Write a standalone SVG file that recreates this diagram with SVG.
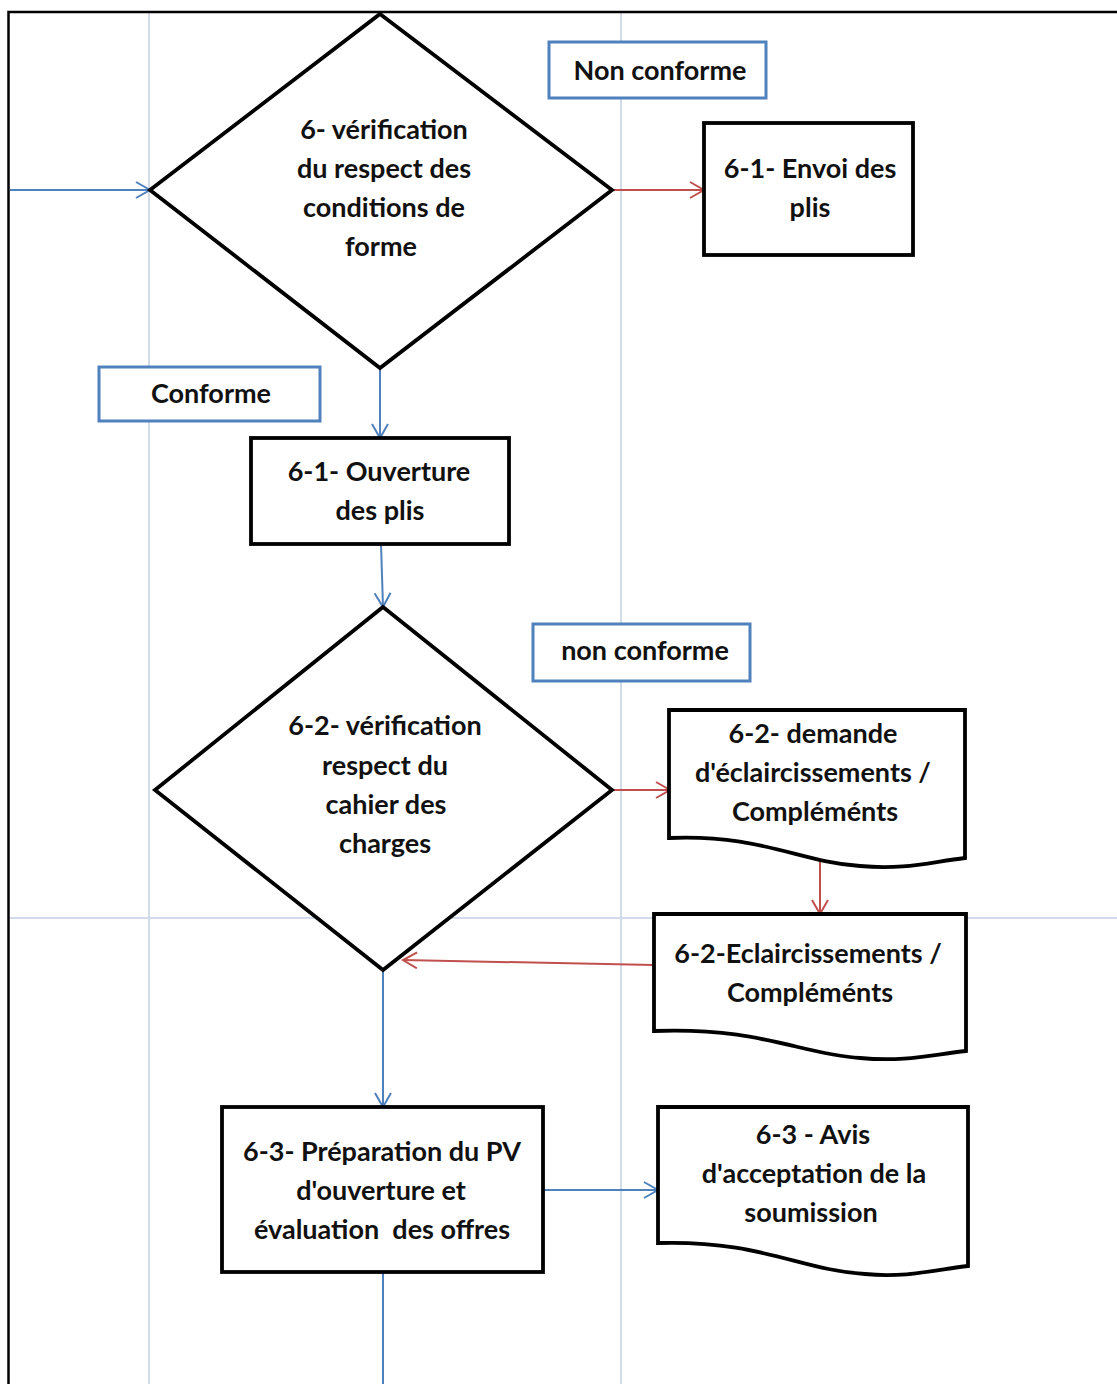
<svg xmlns="http://www.w3.org/2000/svg" width="1117" height="1384" viewBox="0 0 1117 1384">
<style>
.grid{stroke:#d3dbea;stroke-width:2;fill:none}
.frame{stroke:#000;stroke-width:2.5;fill:none}
.shape{fill:#fff;stroke:#000;stroke-width:3.8}
.lbl{fill:#fff;stroke:#4f81bd;stroke-width:3}
.blue{stroke:#4f81bd;stroke-width:2;fill:none}
.red{stroke:#c0504d;stroke-width:2;fill:none}
text{font-family:Lato,"Liberation Sans",sans-serif;font-weight:bold;font-size:27px;fill:#111;text-anchor:middle}
</style>
<defs>
<marker id="ab" markerUnits="userSpaceOnUse" markerWidth="18" markerHeight="20" refX="15" refY="9" orient="auto">
<path d="M1,1 L15,9 L1,17" fill="none" stroke="#4f81bd" stroke-width="2"/>
</marker>
<marker id="ar" markerUnits="userSpaceOnUse" markerWidth="18" markerHeight="20" refX="15" refY="9" orient="auto">
<path d="M1,1 L15,9 L1,17" fill="none" stroke="#c0504d" stroke-width="2"/>
</marker>
</defs>
<rect width="1117" height="1384" fill="#fff"/>
<g id="grid">
<line class="grid" x1="149" y1="12" x2="149" y2="1384"/>
<line class="grid" x1="621" y1="12" x2="621" y2="1384"/>
<line class="grid" x1="10" y1="918" x2="1117" y2="918"/>
</g>
<g id="frame">
<path class="frame" d="M8.5,1384 V12 H1117"/>
</g>
<g id="connectors">
<line class="blue" x1="10" y1="190" x2="150" y2="190" marker-end="url(#ab)"/>
<line class="red" x1="612" y1="190" x2="704" y2="190" marker-end="url(#ar)"/>
<line class="blue" x1="380" y1="368" x2="380" y2="438" marker-end="url(#ab)"/>
<line class="blue" x1="381" y1="544" x2="383" y2="607" marker-end="url(#ab)"/>
<line class="red" x1="612" y1="790" x2="670" y2="790" marker-end="url(#ar)"/>
<line class="red" x1="820" y1="861" x2="820" y2="914" marker-end="url(#ar)"/>
<line class="red" x1="654" y1="965" x2="403" y2="960" marker-end="url(#ar)"/>
<line class="blue" x1="383" y1="970" x2="383" y2="1107" marker-end="url(#ab)"/>
<line class="blue" x1="543" y1="1190" x2="658" y2="1190" marker-end="url(#ab)"/>
<line class="blue" x1="383" y1="1272" x2="383" y2="1384"/>
</g>
<g id="d1">
<polygon class="shape" points="380,14 612,190 380,368 150,190"/>
<text x="384" y="139">6- vérification</text>
<text x="384" y="178">du respect des</text>
<text x="384" y="217">conditions de</text>
<text x="381" y="256">forme</text>
</g>
<g id="lbl-nc1">
<rect class="lbl" x="549" y="42" width="217" height="56"/>
<text x="660" y="80">Non conforme</text>
</g>
<g id="envoi">
<rect class="shape" x="704" y="123" width="209" height="132"/>
<text x="810" y="178">6-1- Envoi des</text>
<text x="810" y="217">plis</text>
</g>
<g id="lbl-c">
<rect class="lbl" x="99" y="367" width="221" height="54"/>
<text x="211" y="403">Conforme</text>
</g>
<g id="ouverture">
<rect class="shape" x="251" y="438" width="258" height="106"/>
<text x="379" y="481">6-1- Ouverture</text>
<text x="380" y="520">des plis</text>
</g>
<g id="lbl-nc2">
<rect class="lbl" x="533" y="624" width="217" height="57"/>
<text x="645" y="660">non conforme</text>
</g>
<g id="d2">
<polygon class="shape" points="383,607 612,790 383,970 155,790"/>
<text x="385" y="735">6-2- vérification</text>
<text x="385" y="775">respect du</text>
<text x="386" y="814">cahier des</text>
<text x="385" y="853">charges</text>
</g>
<g id="doc1">
<path class="shape" d="M669,710 H965 V858 C930,862 905,870 860,866 C800,862 760,834 669,838 Z"/>
<text x="813" y="743">6-2- demande</text>
<text x="813" y="782">d'éclaircissements /</text>
<text x="815" y="821">Compléménts</text>
</g>
<g id="doc2">
<path class="shape" d="M654,914 H966 V1051 C930,1055 905,1062 860,1058 C800,1054 760,1027 654,1031 Z"/>
<text x="808" y="963">6-2-Eclaircissements /</text>
<text x="810" y="1002">Compléménts</text>
</g>
<g id="pv">
<rect class="shape" x="222" y="1107" width="321" height="165"/>
<text x="382" y="1161">6-3- Préparation du PV</text>
<text x="381" y="1200">d'ouverture et</text>
<text x="382" y="1239" xml:space="preserve" style="white-space:pre">évaluation  des offres</text>
</g>
<g id="doc3">
<path class="shape" d="M658,1107 H968 V1266 C935,1270 905,1278 865,1274 C800,1270 760,1240 658,1243 Z"/>
<text x="813" y="1144">6-3 - Avis</text>
<text x="814" y="1183">d'acceptation de la</text>
<text x="811" y="1222">soumission</text>
</g>
</svg>
